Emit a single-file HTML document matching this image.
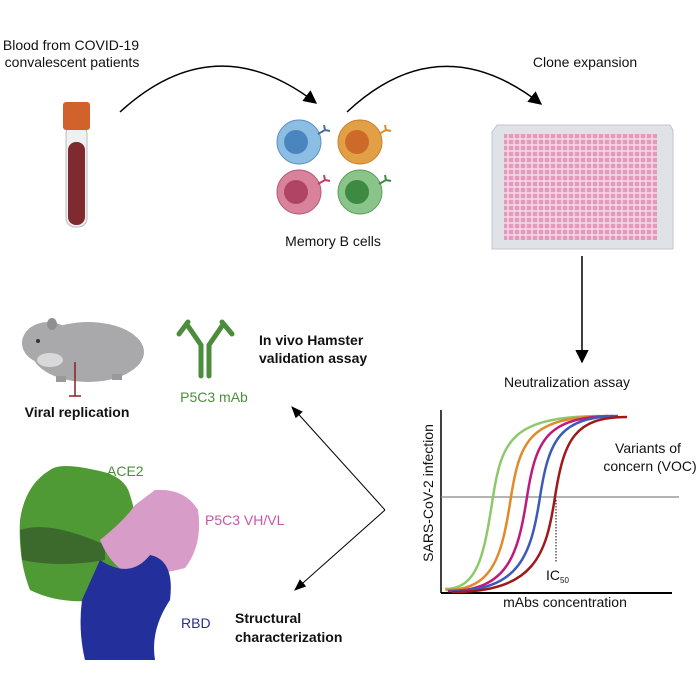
<!DOCTYPE html>
<html><head><meta charset="utf-8"><style>body{margin:0;background:#fff}svg{display:block}text{font-family:"Liberation Sans",sans-serif;font-size:14px;fill:#111}.b{font-weight:bold}</style></head>
<body>
<svg width="700" height="700" viewBox="0 0 700 700">
<defs><marker id="ah" viewBox="0 0 10 10" refX="9" refY="5" markerWidth="9" markerHeight="9" orient="auto"><path d="M0,0 L10,5 L0,10 z" fill="#000"/></marker>
<marker id="ah2" viewBox="0 0 10 10" refX="9" refY="5" markerWidth="12" markerHeight="12" orient="auto"><path d="M0,1 L10,5 L0,9 z" fill="#000"/></marker></defs>
<text x="71" y="50" text-anchor="middle">Blood from COVID-19</text>
<text x="72" y="67" text-anchor="middle">convalescent patients</text>
<text x="585" y="67" text-anchor="middle">Clone expansion</text>
<text x="333" y="246" text-anchor="middle">Memory B cells</text>
<!-- tube -->
<rect x="66" y="125" width="21" height="102" rx="9" fill="#eef0f2" stroke="#b8bcc0"/>
<rect x="68" y="142" width="17" height="83" rx="8" fill="#7f2a2e"/>
<rect x="63" y="102" width="27" height="28" rx="3" fill="#d2622b"/>
<!-- arrows -->
<path d="M120,112 Q215,25 316,103" fill="none" stroke="#000" stroke-width="1.5" marker-end="url(#ah)"/>
<path d="M347,112 Q440,25 541,104" fill="none" stroke="#000" stroke-width="1.5" marker-end="url(#ah)"/>
<line x1="582" y1="256" x2="582" y2="362" stroke="#000" stroke-width="1.5" marker-end="url(#ah)"/>
<!-- cells -->
<circle cx="299" cy="142" r="22" fill="#8cbde3" stroke="#5d92c5"/><circle cx="296" cy="142" r="12" fill="#4a85c0"/>
<circle cx="360" cy="142" r="22" fill="#e2a046" stroke="#c7812c"/><circle cx="357" cy="142" r="12" fill="#cd6a2a"/>
<circle cx="299" cy="192" r="22" fill="#d9829c" stroke="#b95b78"/><circle cx="296" cy="192" r="12" fill="#b04465"/>
<circle cx="360" cy="192" r="22" fill="#8bc48a" stroke="#5e9e5e"/><circle cx="357" cy="192" r="12" fill="#3f8a43"/>
<path d="M318,134 l7,-4 M325,130 l-1,-5 M325,130 l5,1" stroke="#4a6fa5" stroke-width="2"/>
<path d="M379,134 l7,-4 M386,130 l-1,-5 M386,130 l5,1" stroke="#e08a2a" stroke-width="2"/>
<path d="M318,184 l7,-4 M325,180 l-1,-5 M325,180 l5,1" stroke="#c04060" stroke-width="2"/>
<path d="M379,184 l7,-4 M386,180 l-1,-5 M386,180 l5,1" stroke="#3f8a43" stroke-width="2"/>
<!-- plate -->
<path d="M497,125 H670 L673,130 V249 H492 V132z" fill="#dfe2e6" stroke="#c2c6ca"/>
<rect x="504" y="134" width="153" height="106" fill="#e39bbd"/>
<g stroke="#f7dbe8" stroke-width="1.4">
<path d="M508,134v106M514,134v106M520,134v106M526,134v106M532,134v106M538,134v106M544,134v106M550,134v106M556,134v106M562,134v106M568,134v106M574,134v106M580,134v106M586,134v106M592,134v106M598,134v106M604,134v106M610,134v106M616,134v106M622,134v106M628,134v106M634,134v106M640,134v106M646,134v106M652,134v106"/>
<path d="M504,139h153M504,145h153M504,151h153M504,157h153M504,163h153M504,169h153M504,175h153M504,181h153M504,187h153M504,193h153M504,199h153M504,205h153M504,211h153M504,217h153M504,223h153M504,229h153M504,235h153"/>
</g>
<text x="567" y="387" text-anchor="middle">Neutralization assay</text>
<!-- graph -->
<line x1="441" y1="410" x2="441" y2="593" stroke="#000" stroke-width="1.5"/>
<line x1="441" y1="593" x2="672" y2="593" stroke="#000" stroke-width="2"/>
<line x1="441" y1="497" x2="679" y2="497" stroke="#888" stroke-width="1.2"/>
<g fill="none" stroke-width="2.5">
<path d="M445,589 C478,589 484,555 493,497 S513,417 600,416" stroke="#8dc96b"/>
<path d="M446,590 C494,590 502,555 511,497 S531,417 608,416" stroke="#e08a2a"/>
<path d="M448,591 C508,591 518,555 527,497 S547,417 613,416" stroke="#c0197c"/>
<path d="M450,591 C520,591 531,555 540,497 S560,417 618,416" stroke="#3c5bb8"/>
<path d="M452,592 C535,592 546,555 555,497 S575,417 627,417" stroke="#a01818"/>
</g>
<line x1="556" y1="500" x2="556" y2="563" stroke="#000" stroke-dasharray="1.5,1.5"/>
<text x="546" y="580">IC<tspan font-size="8" dy="3">50</tspan></text>
<text x="565" y="607" text-anchor="middle">mAbs concentration</text>
<text x="648" y="453" text-anchor="middle">Variants of</text>
<text x="650" y="471" text-anchor="middle">concern (VOC)</text>
<text transform="translate(433,493) rotate(-90)" text-anchor="middle">SARS-CoV-2 infection</text>
<!-- hamster -->
<ellipse cx="88" cy="352" rx="56" ry="30" fill="#a9a9ab"/>
<ellipse cx="48" cy="343" rx="26" ry="21" fill="#a9a9ab"/>
<ellipse cx="52" cy="324" rx="5" ry="6" fill="#8f8f91"/>
<ellipse cx="50" cy="360" rx="13" ry="7" fill="#d8d8d8"/>
<circle cx="38" cy="341" r="2" fill="#333"/>
<rect x="56" y="376" width="10" height="6" fill="#999"/><rect x="112" y="374" width="10" height="6" fill="#999"/>
<path d="M75,362 V396 M69,396 H81" stroke="#8a1f24" stroke-width="1.5"/>
<text x="77" y="417" text-anchor="middle" class="b">Viral replication</text>
<!-- antibody -->
<g stroke="#4b8d3b" stroke-width="5" stroke-linecap="round" fill="none">
<path d="M201,345 V376 M209,345 V376 M201,345 L188,326 M209,345 L222,326 M188,322 L179,334 M222,322 L232,334"/>
</g>
<text x="214" y="402" text-anchor="middle" style="fill:#4b8d3b">P5C3 mAb</text>
<text x="259" y="345" class="b">In vivo Hamster</text>
<text x="259" y="363" class="b">validation assay</text>
<!-- V arrows -->
<path d="M385,510 L292,407" stroke="#000" fill="none" marker-end="url(#ah2)"/>
<path d="M385,510 L295,590" stroke="#000" fill="none" marker-end="url(#ah2)"/>
<!-- protein -->
<path d="M50,470 Q60,462 95,470 Q125,475 130,495 Q138,520 140,555 Q120,590 100,600 Q60,605 30,590 Q18,560 20,520 Q25,485 50,470z" fill="#4f9a34"/>
<path d="M20,530 Q50,520 105,545 L105,560 Q60,568 22,560z" fill="#3c6a2c"/>
<path d="M155,490 Q185,488 198,510 Q203,545 185,568 Q160,575 130,575 Q110,565 100,540 Q125,520 135,505z" fill="#d89cc8"/>
<path d="M100,560 Q130,580 150,555 Q175,560 170,600 Q150,630 155,660 H85 Q78,630 82,600z" fill="#232f9a"/>
<text x="107" y="476" style="fill:#4b8d3b">ACE2</text>
<text x="205" y="525" style="fill:#c855a8">P5C3 VH/VL</text>
<text x="181" y="628" style="fill:#2a2f8a">RBD</text>
<text x="235" y="623" class="b">Structural</text>
<text x="235" y="642" class="b">characterization</text>
</svg>
</body></html>
